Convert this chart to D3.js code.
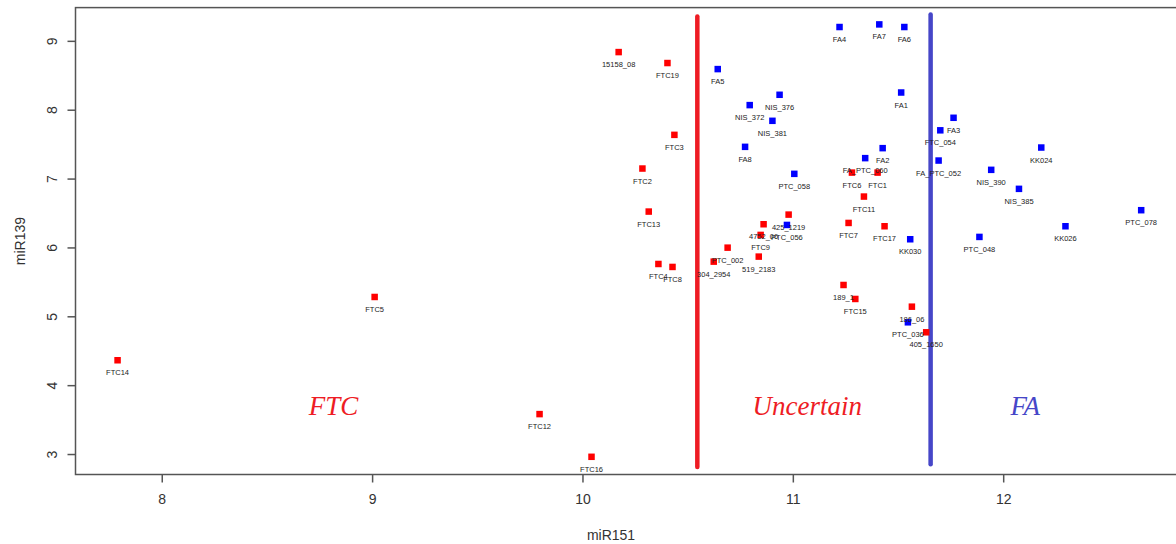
<!DOCTYPE html>
<html>
<head>
<meta charset="utf-8">
<script src="https://cdn.jsdelivr.net/npm/d3@7"></script>
<style>
  body { margin: 0; background: #fff; }
  svg { display: block; }
</style>
</head>
<body>
<svg id="chart"></svg>
<script>
// FTC samples (red)
const ftcNames = ["FTC14", "FTC5", "FTC12", "FTC16", "15158_08", "FTC19", "FTC3", "FTC2", "FTC13",
  "FTC4", "FTC8", "PTC_002", "304_2954", "519_2183", "4752_06", "FTC9", "425_1219", "FTC6", "FTC1",
  "FTC11", "FTC7", "FTC17", "189_1", "FTC15", "186_06", "405_1650"];
const ftcX = [7.790, 9.012, 9.796, 10.043, 10.172, 10.404, 10.437, 10.285, 10.315,
  10.361, 10.428, 10.690, 10.624, 10.838, 10.861, 10.847, 10.980, 11.281, 11.403,
  11.338, 11.265, 11.436, 11.241, 11.297, 11.566, 11.634];
const ftcY = [4.369, 5.288, 3.587, 2.967, 8.844, 8.685, 7.642, 7.153, 6.528,
  5.767, 5.724, 6.004, 5.801, 5.874, 6.344, 6.189, 6.484, 7.094, 7.094,
  6.746, 6.363, 6.315, 5.462, 5.259, 5.147, 4.775];

// FA / benign samples (blue)
const faNames = ["FA4", "FA7", "FA6", "FA5", "NIS_376", "NIS_372", "NIS_381", "FA1", "FA3", "FTC_054",
  "FA8", "FA2", "FA_PTC_060", "PTC_058", "FA_PTC_052", "PTC_056", "KK030", "PTC_036", "PTC_048",
  "NIS_390", "NIS_385", "KK024", "KK026", "PTC_078"];
const faX = [11.222, 11.411, 11.530, 10.643, 10.937, 10.795, 10.903, 11.515, 11.764, 11.701,
  10.773, 11.427, 11.344, 11.007, 11.693, 10.972, 11.558, 11.547, 11.887,
  11.943, 12.075, 12.181, 12.296, 12.656];
const faY = [9.208, 9.246, 9.208, 8.597, 8.224, 8.074, 7.846, 8.257, 7.890, 7.708,
  7.468, 7.449, 7.304, 7.076, 7.269, 6.334, 6.126, 4.920, 6.160,
  7.134, 6.858, 7.458, 6.315, 6.548];

// cut-off lines and zone labels
const cutX = [10.546, 11.655];
const cutTop = [9.36, 9.39];
const cutBottom = [2.82, 2.86];
const zoneNames = ["FTC", "Uncertain", "FA"];
const zoneX = [8.817, 11.069, 12.105];
const zoneY = 3.7;

const xTicks = [8, 9, 10, 11, 12];
const yTicks = [3, 4, 5, 6, 7, 8, 9];

const width = 1176, height = 544;
const margin = { top: 7.6, left: 75.5, bottom: 69.5 };

const svg = d3.select('#chart')
  .attr('width', width)
  .attr('height', height);

const xScale = d3.scaleLinear()
  .domain([7.59, 12.85])
  .range([margin.left, 1182]);
const yScale = d3.scaleLinear()
  .domain([2.71, 9.49])
  .range([height - margin.bottom, margin.top]);

const axisColor = '#555';
const font = 'Liberation Sans, Arial, sans-serif';

// plot box
svg.append('rect')
  .attr('x', xScale.range()[0])
  .attr('y', yScale.range()[1])
  .attr('width', xScale.range()[1] - xScale.range()[0])
  .attr('height', yScale.range()[0] - yScale.range()[1])
  .attr('fill', 'none')
  .attr('stroke', axisColor)
  .attr('stroke-width', 1.5);

// axes
const xAxis = d3.axisBottom(xScale).tickValues(xTicks).tickFormat(d3.format('d'))
  .tickSize(8).tickPadding(12).tickSizeOuter(0);
const yAxis = d3.axisLeft(yScale).tickValues(yTicks).tickFormat(d3.format('d'))
  .tickSize(8).tickSizeOuter(0);

const gx = svg.append('g')
  .attr('transform', `translate(0,${yScale.range()[0]})`)
  .call(xAxis);
gx.select('.domain').remove();
gx.selectAll('line').attr('stroke', axisColor).attr('stroke-width', 1.5);
gx.selectAll('text')
  .attr('fill', '#333')
  .style('font-family', font)
  .style('font-size', '14px');

const gy = svg.append('g')
  .attr('transform', `translate(${xScale.range()[0]},0)`)
  .call(yAxis);
gy.select('.domain').remove();
gy.selectAll('line').attr('stroke', axisColor).attr('stroke-width', 1.5);
gy.selectAll('text')
  .attr('fill', '#333')
  .attr('x', null).attr('dy', null)
  .attr('text-anchor', 'middle')
  .attr('transform', d => `translate(-24,${yScale(d)}) rotate(-90)`)
  .attr('y', 0)
  .attr('dominant-baseline', 'central')
  .style('font-family', font)
  .style('font-size', '14px');
gy.selectAll('.tick').attr('transform', null);
gy.selectAll('.tick line').attr('y1', d => yScale(d)).attr('y2', d => yScale(d));

// axis titles
svg.append('text')
  .attr('x', 611).attr('y', 535)
  .attr('text-anchor', 'middle')
  .attr('dominant-baseline', 'central')
  .attr('fill', '#333')
  .style('font-family', font)
  .style('font-size', '14px')
  .text('miR151');
svg.append('text')
  .attr('transform', `translate(20,${(yScale.range()[0] + yScale.range()[1]) / 2}) rotate(-90)`)
  .attr('text-anchor', 'middle')
  .attr('dominant-baseline', 'central')
  .attr('fill', '#333')
  .style('font-family', font)
  .style('font-size', '14px')
  .text('miR139');

// cut-off lines
const cutColors = ['#ee1c24', '#4646c8'];
svg.selectAll('.cut')
  .data(cutX)
  .join('line')
  .attr('class', 'cut')
  .attr('x1', d => xScale(d)).attr('x2', d => xScale(d))
  .attr('y1', (d, i) => yScale(cutTop[i]))
  .attr('y2', (d, i) => yScale(cutBottom[i]))
  .attr('stroke', (d, i) => cutColors[i])
  .attr('stroke-width', 4.5)
  .attr('stroke-linecap', 'round');

// zone labels
const zoneColors = ['#ee1c24', '#ee1c24', '#4646c8'];
svg.selectAll('.zone')
  .data(zoneNames)
  .join('text')
  .attr('class', 'zone')
  .attr('x', (d, i) => xScale(zoneX[i]))
  .attr('y', yScale(zoneY))
  .attr('text-anchor', 'middle')
  .attr('dominant-baseline', 'central')
  .attr('fill', (d, i) => zoneColors[i])
  .style('font-family', 'Liberation Serif, DejaVu Serif, serif')
  .style('font-style', 'italic')
  .style('font-size', '27px')
  .text(d => d);

// points
const ftcData = ftcNames.map((n, i) => ({ name: n, x: ftcX[i], y: ftcY[i], color: '#ff0000' }));
const faData = faNames.map((n, i) => ({ name: n, x: faX[i], y: faY[i], color: '#0000ff' }));
const allData = ftcData.concat(faData);
const sz = 6.5;

svg.selectAll('.pt')
  .data(allData)
  .join('rect')
  .attr('class', 'pt')
  .attr('x', d => xScale(d.x) - sz / 2)
  .attr('y', d => yScale(d.y) - sz / 2)
  .attr('width', sz)
  .attr('height', sz)
  .attr('fill', d => d.color);

svg.selectAll('.lbl')
  .data(allData)
  .join('text')
  .attr('class', 'lbl')
  .attr('x', d => xScale(d.x))
  .attr('y', d => yScale(d.y) + 12.5)
  .attr('text-anchor', 'middle')
  .attr('dominant-baseline', 'central')
  .attr('fill', '#222')
  .style('font-family', font)
  .style('font-size', '7.5px')
  .text(d => d.name);
</script>
</body>
</html>
